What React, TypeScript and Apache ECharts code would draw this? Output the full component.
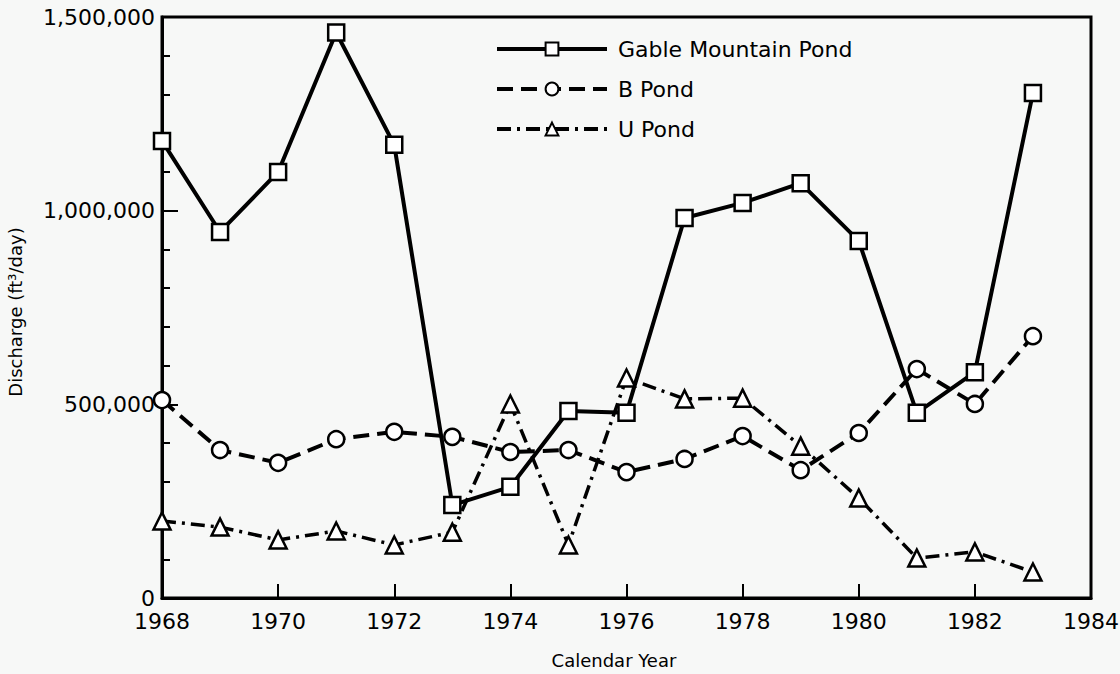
import React, { useEffect, useRef } from "react";
import * as echarts from "echarts";

const years = [1968, 1969, 1970, 1971, 1972, 1973, 1974, 1975, 1976, 1977, 1978, 1979, 1980, 1981, 1982, 1983];
const gableMountainPond = [1180000, 945000, 1100000, 1460000, 1170000, 240000, 287000, 483000, 478000, 981000, 1020000, 1071000, 922000, 478000, 583000, 1304000];
const bPond = [511000, 382000, 349000, 410000, 429000, 416000, 377000, 382000, 325000, 359000, 418000, 330000, 426000, 591000, 501000, 676000];
const uPond = [199000, 183000, 150000, 173000, 137000, 170000, 501000, 137000, 568000, 514000, 516000, 392000, 258000, 103000, 119000, 67000];
const seriesNames = ["Gable Mountain Pond", "B Pond", "U Pond"];
const xAxisTitle = "Calendar Year";
const yAxisTitle = "Discharge (ft\u00B3/day)";

const FONT = "DejaVu Sans";

export default function App() {
  const ref = useRef<HTMLDivElement>(null);
  useEffect(() => {
    if (!ref.current) return;
    const chart = echarts.init(ref.current, null, { renderer: "svg" });
    const pairs = (vals: number[]) => years.map((y, i) => [y, vals[i]]);
    const common = {
      type: "line",
      symbolSize: 16,
      itemStyle: { color: "#ffffff", borderColor: "#000000", borderWidth: 2.5 },
      emphasis: { disabled: true },
    };
    chart.setOption({
      animation: false,
      backgroundColor: "#f7f8f7",
      textStyle: { fontFamily: FONT, color: "#000" },
      grid: {
        left: 162,
        right: 29,
        top: 17,
        bottom: 76,
        containLabel: false,
        outerBoundsMode: "none",
        show: true,
        borderColor: "#000",
        borderWidth: 3,
        backgroundColor: "transparent",
      },
      legend: {
        orient: "vertical",
        left: 490,
        top: 33,
        itemWidth: 110,
        itemHeight: 16,
        itemGap: 18,
        data: seriesNames,
        lineStyle: { width: 4 },
        textStyle: { fontFamily: FONT, fontSize: 22, color: "#000", padding: [0, 0, 0, 6] },
      },
      graphic: [
        {
          type: "text",
          x: 614,
          y: 660,
          style: {
            text: xAxisTitle,
            font: `18px "${FONT}"`,
            fill: "#000",
            textAlign: "center",
            textVerticalAlign: "middle",
          },
        },
        {
          type: "text",
          x: 15,
          y: 312,
          rotation: Math.PI / 2,
          style: {
            text: yAxisTitle,
            font: `18px "${FONT}"`,
            fill: "#000",
            textAlign: "center",
            textVerticalAlign: "middle",
          },
        },
      ],
      xAxis: {
        type: "value",
        min: 1968,
        max: 1984,
        interval: 2,
        axisLine: { show: true, lineStyle: { color: "#000", width: 3 } },
        axisTick: { show: true, inside: true, length: 14, lineStyle: { color: "#000", width: 2 } },
        axisLabel: {
          fontFamily: FONT,
          fontSize: 22,
          lineHeight: 16,
          color: "#000",
          margin: 15,
          formatter: (v: number) => String(v),
        },
        splitLine: { show: false },
      },
      yAxis: {
        type: "value",
        min: 0,
        max: 1500000,
        interval: 500000,
        axisLine: { show: true, lineStyle: { color: "#000", width: 3 } },
        axisTick: { show: true, inside: true, length: 16, lineStyle: { color: "#000", width: 2 } },
        minorTick: { show: true, splitNumber: 5, length: 8, lineStyle: { color: "#000", width: 2 } },
        axisLabel: {
          fontFamily: FONT,
          fontSize: 22,
          lineHeight: 16,
          color: "#000",
          margin: 7,
          formatter: (v: number) => v.toLocaleString("en-US"),
        },
        splitLine: { show: false },
      },
      series: [
        {
          ...common,
          name: seriesNames[0],
          symbol: "rect",
          data: pairs(gableMountainPond),
          lineStyle: { color: "#000", width: 4, type: "solid" },
        },
        {
          ...common,
          name: seriesNames[1],
          symbol: "circle",
          data: pairs(bPond),
          lineStyle: { color: "#000", width: 4, type: [16, 8] },
        },
        {
          ...common,
          name: seriesNames[2],
          symbol: "triangle",
          symbolSize: 17,
          data: pairs(uPond),
          lineStyle: { color: "#000", width: 3.5, type: [14, 6, 3, 6] },
        },
      ],
    });
    return () => chart.dispose();
  }, []);
  return (
    <div
      ref={ref}
      style={{ position: "fixed", left: 0, top: 0, width: 1120, height: 674 }}
    />
  );
}
